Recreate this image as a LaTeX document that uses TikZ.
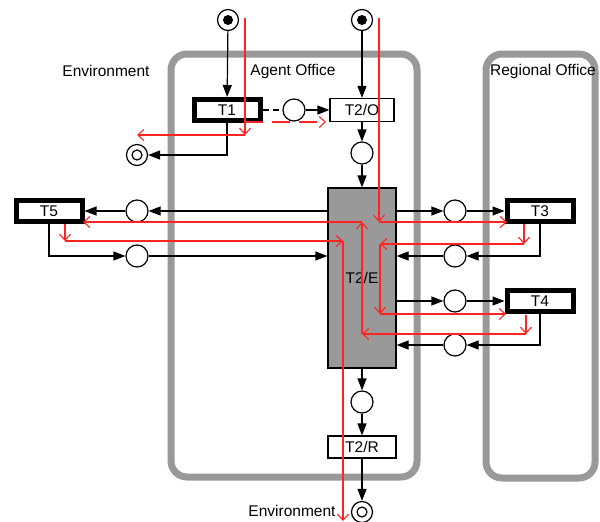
\documentclass[tikz,border=0pt]{standalone}
\usepackage{fontspec}
\setmainfont{Liberation Sans}
\usetikzlibrary{arrows.meta}
\definecolor{officegray}{RGB}{153,153,153}
\definecolor{trace}{RGB}{255,35,35}

\begin{document}
\begin{tikzpicture}[x=1pt, y=-1pt,
            font=\fontsize{15.5}{18}\selectfont,
            office/.style={draw=officegray, line width=7pt, rounded corners=16pt},
            trans/.style={draw, fill=white, line width=1.2pt, minimum width=64pt, minimum height=23pt, inner sep=0pt},
            tool/.style={trans, line width=5pt, minimum width=66pt, minimum height=21pt},
            place/.style={draw, circle, fill=white, line width=1.2pt, minimum size=22pt, inner sep=0pt},
            startplace/.style={place, minimum size=21pt, path picture={\fill[black] (path picture bounding box.center) circle (5pt);}},
            endplace/.style={place, minimum size=21pt, path picture={\draw[black, line width=1.2pt] (path picture bounding box.center) circle (5pt);}},
            arc/.style={-{Triangle[length=12pt, width=9pt]}, line width=1.2pt},
            flow/.style={-{Straight Barb[length=6pt, width=11pt]}, draw=trace, line width=1.1pt}
        ]
        \useasboundingbox (0,0) rectangle (600,522);
        \draw[office] (171,54) rectangle (417,477);
        \draw[office] (486,54) rectangle (595,478);
        \node (env1) at (106,71) {Environment};
        \node (agent) at (293,71) {Agent Office};
        \node (regional) at (543,71) {Regional Office};
        \node (env2) at (292,511) {Environment};

        \node[startplace] (in1) at (228,20) {};
        \node[startplace] (in2) at (362,20) {};
        \node[tool] (t1) at (227,110) {T1};
        \node[place] (q1) at (294,110) {};
        \node[trans] (t2o) at (362,110) {T2/O};
        \node[endplace] (out1) at (137,155) {};
        \node[place] (q2) at (362,153) {};
        \node[trans, fill=officegray, minimum width=68pt, minimum height=180pt] (t2e) at (362,278) {T2/E};
        \node[place] (q3) at (455,211) {};
        \node[tool] (t3) at (540,211) {T3};
        \node[place] (q4) at (455,256) {};
        \node[place] (q5) at (455,301) {};
        \node[tool] (t4) at (540,301) {T4};
        \node[place] (q6) at (455,345) {};
        \node[place] (q7) at (137,211) {};
        \node[tool] (t5) at (49,211) {T5};
        \node[place] (q8) at (137,256) {};
        \node[place] (q9) at (362,402) {};
        \node[trans, minimum width=68pt, minimum height=22pt] (t2r) at (362,447) {T2/R};
        \node[endplace] (out2) at (362,512) {};

        \draw[arc] (in1) -- (t1);
        \draw[line width=1.2pt, dash pattern=on 6pt off 4pt] (t1) -- (q1);
        \draw[arc] (q1) -- (t2o);
        \draw[arc] (t1.south) |- (out1);
        \draw[arc] (in2) -- (t2o);
        \draw[arc] (t2o) -- (q2);
        \draw[arc] (q2) -- (t2e);
        \draw[arc] (t2e.east |- q3) -- (q3);
        \draw[arc] (q3) -- (t3);
        \draw[arc] (t3.south) |- (q4);
        \draw[arc] (q4) -- (t2e.east |- q4);
        \draw[arc] (t2e.east |- q5) -- (q5);
        \draw[arc] (q5) -- (t4);
        \draw[arc] (t4.south) |- (q6);
        \draw[arc] (q6) -- (t2e.east |- q6);
        \draw[arc] (t2e.west |- q7) -- (q7);
        \draw[arc] (q7) -- (t5);
        \draw[arc] (t5.south) |- (q8);
        \draw[arc] (q8) -- (t2e.west |- q8);
        \draw[arc] (t2e) -- (q9);
        \draw[arc] (q9) -- (t2r);
        \draw[arc] (t2r) -- (out2);

        \coordinate (ra) at (245,18);
        \coordinate (rb) at (245,135);
        \coordinate (rc) at (137,135);
        \coordinate (rd) at (245,122);
        \coordinate (re) at (326,122);
        \coordinate (rf) at (379,18);
        \coordinate (rg) at (379,222);
        \coordinate (rh) at (507,222);
        \coordinate (ri) at (524,224);
        \coordinate (rj) at (524,244);
        \coordinate (rk) at (380,244);
        \coordinate (rl) at (380,314);
        \coordinate (rm) at (506,314);
        \coordinate (rn) at (526,315);
        \coordinate (ro) at (526,334);
        \coordinate (rp) at (362,334);
        \coordinate (rq) at (362,222);
        \coordinate (rr) at (83,222);
        \coordinate (rs) at (65,224);
        \coordinate (rt) at (65,241);
        \coordinate (ru) at (343,241);
        \coordinate (rv) at (343,521);
        \draw[flow] (ra) -- (rb);
        \draw[flow] (rb) -- (rc);
        \draw[flow, dash pattern=on 18pt off 9pt] (rd) -- (re);
        \draw[flow] (rf) -- (rg);
        \draw[flow] (rg) -- (rh);
        \draw[flow] (ri) -- (rj);
        \draw[flow] (rj) -- (rk);
        \draw[flow] (rk) -- (rl);
        \draw[flow] (rl) -- (rm);
        \draw[flow] (rn) -- (ro);
        \draw[flow] (ro) -- (rp);
        \draw[flow] (rp) -- (rq);
        \draw[flow] (rq) -- (rr);
        \draw[flow] (rs) -- (rt);
        \draw[flow] (rt) -- (ru);
        \draw[flow] (ru) -- (rv);
        \end{tikzpicture}
\end{document}
